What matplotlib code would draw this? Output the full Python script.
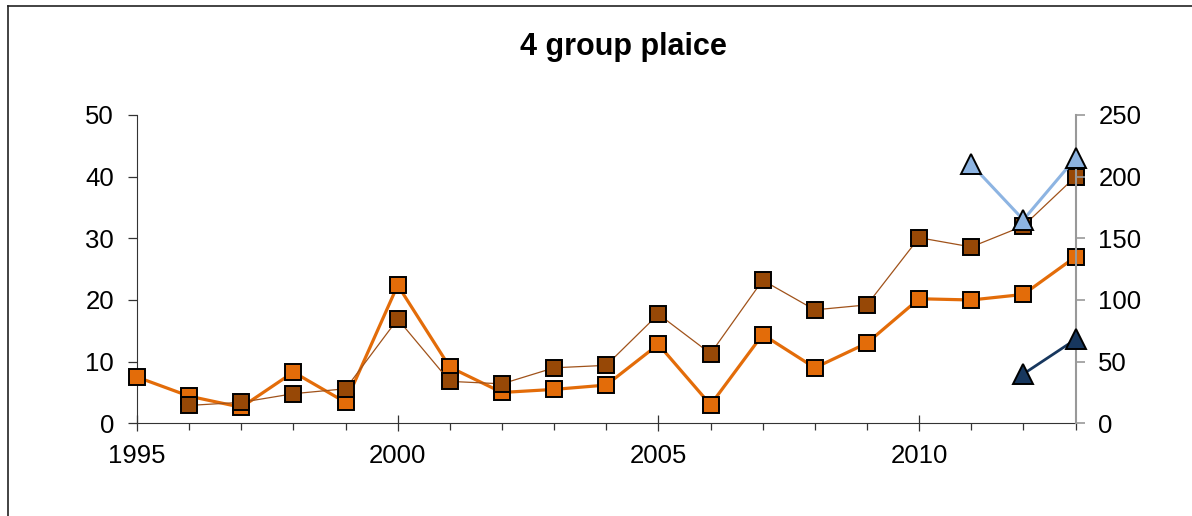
import matplotlib
matplotlib.use('Agg')
import matplotlib.pyplot as plt
from matplotlib.lines import Line2D
from matplotlib.ticker import MultipleLocator

plt.rcParams['font.family'] = ['Liberation Sans', 'DejaVu Sans']

# 数据
years = [1995, 1996, 1997, 1998, 1999, 2000, 2001, 2002, 2003, 2004,
         2005, 2006, 2007, 2008, 2009, 2010, 2011, 2012, 2013]
orange_vals = [7.5, 4.4, 2.6, 8.3, 3.4, 22.4, 9.1, 5.0, 5.5, 6.2,
               12.8, 3.0, 14.4, 9.0, 13.0, 20.2, 20.0, 20.9, 27.0]
brown_years = years[1:]
brown_vals = [2.9, 3.4, 4.8, 5.6, 16.9, 6.8, 6.4, 9.0, 9.4,
              17.7, 11.3, 23.2, 18.4, 19.2, 30.1, 28.6, 32.0, 40.0]
light_years = [2011, 2012, 2013]
light_vals = [210, 165, 215]
dark_years = [2012, 2013]
dark_vals = [40, 68]

fig = plt.figure(figsize=(11.92, 5.16), dpi=100)
ax = fig.add_axes([137 / 1192, 1 - 423.3 / 516, (1075.5 - 137) / 1192, (423.3 - 115) / 516])
ax2 = ax.twinx()

ax.plot(years, orange_vals, color='#E36C09', lw=2.3, marker='s', ms=11.5,
        mfc='#E36C09', mec='black', mew=1.4, clip_on=False, zorder=3)
ax.plot(brown_years, brown_vals, color='#A0521A', lw=0.9, marker='s', ms=11.5,
        mfc='#974806', mec='black', mew=1.4, clip_on=False, zorder=4)
ax2.plot(light_years, light_vals, color='#8DB4E2', lw=2.2, marker='^', ms=14.5,
         mfc='#8DB4E2', mec='black', mew=1.4, clip_on=False, zorder=5)
ax2.plot(dark_years, dark_vals, color='#17375E', lw=2.0, marker='^', ms=14.5,
         mfc='#17375E', mec='black', mew=1.4, clip_on=False, zorder=5)

ax.set_zorder(ax2.get_zorder() - 1)
ax.patch.set_visible(False)
ax2.set_zorder(2)

ax.set_xlim(1995, 2013)
ax.set_ylim(0, 50)
ax2.set_ylim(0, 250)

ax.xaxis.set_major_locator(MultipleLocator(5))
ax.xaxis.set_minor_locator(MultipleLocator(1))
ax.yaxis.set_major_locator(MultipleLocator(10))
ax2.yaxis.set_major_locator(MultipleLocator(50))

for s in ['top', 'right']:
    ax.spines[s].set_visible(False)
for s in ['top', 'left', 'bottom']:
    ax2.spines[s].set_visible(False)
ax.spines['left'].set_color('#333333')
ax.spines['bottom'].set_color('#333333')
ax2.spines['right'].set_color('#999999')
ax2.spines['right'].set_linewidth(1.5)

ax.tick_params(axis='x', which='major', direction='inout', length=12, width=0.9,
               color='#333333', labelsize=18.5, pad=9)
ax.tick_params(axis='x', which='minor', direction='out', length=5, width=0.9, color='#333333')
ax.tick_params(axis='y', direction='out', length=6.5, width=0.9, color='#333333',
               labelsize=18.5, pad=10)
ax2.tick_params(axis='y', direction='out', length=6.5, width=1.2, color='#999999',
                labelsize=18.5, pad=10)

fig.text(623 / 1192, 1 - 47 / 516, '4 group plaice', ha='center', va='center',
         fontsize=22, fontweight='bold')

# 图表外框
fig.add_artist(Line2D([8 / 1192, 8 / 1192], [0, 1 - 6 / 516], transform=fig.transFigure,
                      color='#222222', lw=1.2))
fig.add_artist(Line2D([8 / 1192, 1], [1 - 6 / 516, 1 - 6 / 516], transform=fig.transFigure,
                      color='#222222', lw=1.2))

fig.savefig('out.png', dpi=100)
